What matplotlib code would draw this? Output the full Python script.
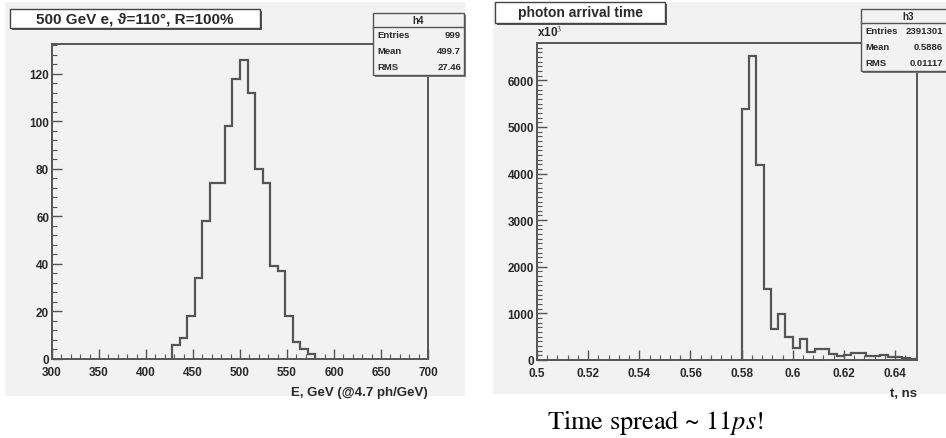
import numpy as np
import matplotlib
matplotlib.use('Agg')
import matplotlib.pyplot as plt
from matplotlib.ticker import MultipleLocator
from matplotlib.patches import Rectangle

plt.rcParams['font.family'] = ['Liberation Sans', 'DejaVu Sans']
plt.rcParams['mathtext.fontset'] = 'stix'

# energy histogram (8 GeV bins, first filled bin starts at 428 GeV)
e_start = 428
e_width = 8
e_counts = [6, 9, 18, 34, 58, 74, 74, 98, 118, 126, 112, 80, 74, 39, 37,
            18, 7, 4, 2]
e_stats = [('Entries', '999'), ('Mean', '499.7'), ('RMS', '27.46')]

# photon arrival time histogram (bins of 0.02/7 ns, first one at 0.58 ns)
t_start = 0.58
t_width = 0.02 / 7
t_counts = [5390, 6530, 4185, 1520, 665, 980, 500, 250, 450, 165, 236, 236,
            130, 90, 110, 160, 150, 90, 80, 100, 60, 70, 40, 30]
t_stats = [('Entries', '2391301'), ('Mean', '0.5886'), ('RMS', '0.01117')]

W, H = 946, 439
fig = plt.figure(figsize=(W / 100, H / 100), dpi=100)
canvas_col = '#f2f2f2'
line_col = '#555555'
text_col = '#2a2a2a'


def box(x0, y0, x1, y1):
    # pixel box -> figure fraction rectangle (left, bottom, width, height)
    return [x0 / W, 1 - y1 / H, (x1 - x0) / W, (y1 - y0) / H]


def pad(x0, y0, x1, y1, **kw):
    l, b, w, h = box(x0, y0, x1, y1)
    fig.patches.append(Rectangle((l, b), w, h, transform=fig.transFigure, **kw))


def setup(ax, xlim, ylim, xmaj, xmin, ymaj, ymin):
    ax.set_facecolor(canvas_col)
    ax.set(xlim=xlim, ylim=ylim)
    ax.xaxis.set_major_locator(MultipleLocator(xmaj))
    ax.xaxis.set_minor_locator(MultipleLocator(xmin))
    ax.yaxis.set_major_locator(MultipleLocator(ymaj))
    ax.yaxis.set_minor_locator(MultipleLocator(ymin))
    ax.tick_params(which='both', direction='in', colors=line_col,
                   labelcolor=text_col, labelsize=8.5, pad=2)
    ax.tick_params(axis='x', which='both', pad=5)
    ax.tick_params(which='major', length=7, width=1)
    ax.tick_params(which='minor', length=3.5, width=0.8)
    for s in ax.spines.values():
        s.set_color(line_col)
        s.set_linewidth(1.4)


def stats(x0, y0, x1, name, rows, text_right=None):
    row_h = 16
    y1 = y0 + 14 + row_h * len(rows)
    xr = x1 - 3 if text_right is None else text_right
    pad(x0 + 2, y0 + 2, x1 + 2, y1 + 2, facecolor='#7a7a7a', edgecolor='none', zorder=5)
    pad(x0, y0, x1, y1, facecolor=canvas_col, edgecolor='#555555', lw=1, zorder=6)
    l, b, w, h = box(x0, y0 + 14, x1, y0 + 14)
    fig.add_artist(plt.Line2D([l, l + w], [b, b], color='#555555', lw=1, zorder=7))
    fig.text((x0 + x1) / 2 / W, 1 - (y0 + 7) / H, name, ha='center', va='center',
             fontsize=7, fontweight='bold', color=text_col, zorder=8)
    for i, (k, v) in enumerate(rows):
        yy = 1 - (y0 + 14 + row_h * (i + 0.5)) / H
        fig.text((x0 + 4) / W, yy, k, ha='left', va='center', fontsize=6.8,
                 fontweight='bold', color=text_col, zorder=8)
        fig.text(xr / W, yy, v, ha='right', va='center', fontsize=6.8,
                 fontweight='bold', color=text_col, zorder=8)


def title(x0, y0, x1, y1, label, size):
    pad(x0 + 2, y0 + 2, x1 + 2, y1 + 2, facecolor='#555555', edgecolor='none', zorder=5)
    pad(x0, y0, x1, y1, facecolor='white', edgecolor='#444444', lw=1, zorder=6)
    fig.text((x0 + x1) / 2 / W, 1 - (y0 + y1) / 2 / H, label, ha='center',
             va='center', fontsize=size, fontweight='bold', color=text_col, zorder=8)


# grey ROOT canvases
pad(5, 3, 465, 397, facecolor=canvas_col, edgecolor='none', zorder=-2)
pad(493, 3, 946, 395, facecolor=canvas_col, edgecolor='none', zorder=-2)

# left: energy
ax1 = fig.add_axes(box(52, 45, 428, 360))
setup(ax1, (300, 700), (0, 132.6), 50, 10, 20, 4)
e_edges = e_start + e_width * np.arange(len(e_counts) + 1)
ax1.stairs(e_counts, e_edges, color=line_col, lw=1.6)
ax1.text(1.0, -0.085, 'E, GeV (@4.7 ph/GeV)', transform=ax1.transAxes,
         ha='right', va='top', fontsize=9.5, fontweight='bold', color=text_col)

# right: photon arrival time
ax2 = fig.add_axes(box(537, 44, 917, 361))
setup(ax2, (0.5, t_start + 24 * t_width), (0, 6800), 0.02, 0.004, 1000, 100)
ax2.xaxis.set_major_formatter(lambda v, p: f'{v:g}')
t_edges = t_start + t_width * np.arange(len(t_counts) + 1)
ax2.stairs(t_counts, t_edges, color=line_col, lw=1.6)
ax2.text(1.0, -0.085, 't, ns', transform=ax2.transAxes,
         ha='right', va='top', fontsize=9.5, fontweight='bold', color=text_col)
ax2.text(0.0, 1.035, r'x10$^{3}$', transform=ax2.transAxes, ha='left',
         va='center', fontsize=8.5, fontweight='bold', color=text_col)

for ax in (ax1, ax2):
    ax.set_zorder(1)
    for lab in ax.get_xticklabels() + ax.get_yticklabels():
        lab.set_fontweight('bold')

title(10, 10, 260, 29, '500 GeV e, \u03d1=110\u00b0, R=100%', 11)
title(495, 3, 665, 24, 'photon arrival time', 10)
stats(373, 14, 464, 'h4', e_stats)
stats(861, 10, 955, 'h3', t_stats, text_right=943)

fig.text(547 / W, 1 - 423 / H, r'Time spread ~ 11$\it{ps}$!', ha='left',
         va='center', fontsize=19, family='STIXGeneral', color='black')

fig.savefig('out.png', dpi=100)
